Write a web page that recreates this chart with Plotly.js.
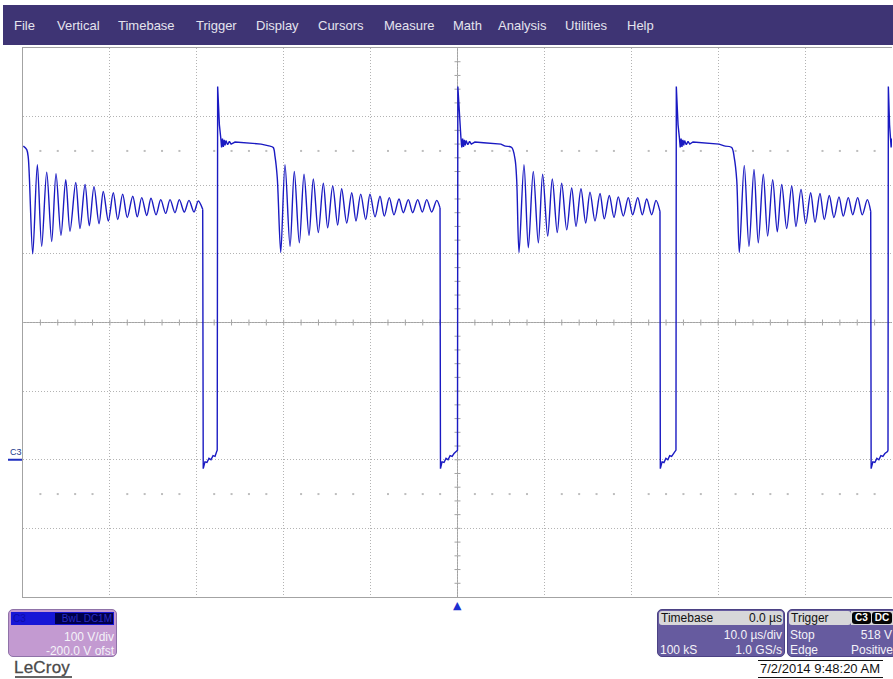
<!DOCTYPE html>
<html>
<head>
<meta charset="utf-8">
<script src="https://cdn.plot.ly/plotly-3.0.1.min.js"></script>
<style>
  html, body { margin:0; padding:0; background:#fff; width:893px; height:679px; overflow:hidden; }
  #plot { position:absolute; left:0; top:0; width:893px; height:679px; }
  .ui { position:absolute; font-family:"Liberation Sans", Arial, sans-serif; white-space:nowrap; }
  #menubar { left:3px; top:5px; width:890px; height:40px; background:#3e3474; }
  .mi { position:absolute; top:13px; font-size:13px; color:#e4e3ee; }
  .box { position:absolute; border-radius:5px; overflow:hidden; box-sizing:border-box; }
  .row { position:absolute; font-size:12px; line-height:14px; color:#f4f2f8; }
</style>
</head>
<body>
<div id="plot"></div>
<div id="menubar" class="ui"></div>

<!-- channel box -->
<div class="ui box" style="left:8px;top:609px;width:109px;height:48px;background:#c39ad1;border:1px solid #8f72a8;">
  <div style="position:absolute;left:2px;top:2px;width:103px;height:13px;background:#1616d6;"></div>
  <div style="position:absolute;left:4px;top:2px;font-size:10px;line-height:13px;color:#0c0caa;">C3</div>
  <div style="position:absolute;left:46px;top:3px;width:58px;height:11px;background:#00004a;"></div>
  <div style="position:absolute;right:4px;top:2px;font-size:10px;line-height:13px;color:#2a2ac4;">BwL DC1M</div>
  <div class="row" style="right:2px;top:20px;">100 V/div</div>
  <div class="row" style="right:2px;top:34px;">-200.0 V ofst</div>
</div>

<div class="ui" style="left:14px;top:658px;font-size:17px;color:#4a4a4a;letter-spacing:0.2px;-webkit-text-stroke:0.3px #4a4a4a;">LeCroy</div>
<div class="ui" style="left:15px;top:676px;width:57px;height:2px;background:#666;"></div>

<!-- timebase box -->
<div class="ui box" style="left:657px;top:609px;width:128px;height:48px;background:#665b9f;border:1px solid #4b4184;">
  <div style="position:absolute;left:1px;top:1px;right:1px;height:14px;background:#d7d7d9;border-radius:3px;"></div>
  <div class="row" style="left:3px;top:1px;color:#111;">Timebase</div>
  <div class="row" style="right:2px;top:1px;color:#111;">0.0 µs</div>
  <div class="row" style="right:2px;top:18px;">10.0 µs/div</div>
  <div class="row" style="left:2px;top:33px;">100 kS</div>
  <div class="row" style="right:2px;top:33px;">1.0 GS/s</div>
</div>

<!-- trigger box -->
<div class="ui box" style="left:787px;top:609px;width:110px;height:48px;background:#665b9f;border:1px solid #4b4184;">
  <div style="position:absolute;left:1px;top:1px;width:62px;height:14px;background:#d7d7d9;border-radius:3px;"></div>
  <div class="row" style="left:3px;top:1px;color:#111;">Trigger</div>
  <div style="position:absolute;left:63px;top:1px;width:44px;height:14px;background:#d7d7d9;"></div>
  <div style="position:absolute;left:64px;top:2px;width:19px;height:12px;background:#050505;border-radius:3px;color:#fff;font-size:10px;line-height:12px;font-weight:bold;text-align:center;">C3</div>
  <div style="position:absolute;left:84px;top:2px;width:20px;height:12px;background:#050505;border-radius:3px;color:#fff;font-size:10px;line-height:12px;font-weight:bold;text-align:center;">DC</div>
  <div class="row" style="left:2px;top:18px;">Stop</div>
  <div class="row" style="left:60px;width:44px;text-align:right;top:18px;">518 V</div>
  <div class="row" style="left:2px;top:33px;">Edge</div>
  <div class="row" style="left:50px;width:55px;text-align:right;top:33px;">Positive</div>
</div>

<div class="ui" style="left:758px;top:660px;width:125px;height:1px;background:#111;"></div>
<div class="ui" style="left:760px;top:661px;font-size:13px;line-height:15px;color:#111;">7/2/2014 9:48:20 AM</div>
<div class="ui" style="left:758px;top:677px;width:125px;height:1px;background:#111;"></div>

<script>
// ---------------- menu ----------------
const menuItems = ["File","Vertical","Timebase","Trigger","Display","Cursors","Measure","Math","Analysis","Utilities","Help"];
const menuLeft  = [14, 57, 118, 196, 256, 318, 384, 453, 498, 565, 627];

// ---------------- scope settings ----------------
const timePerDiv = 10;      // µs/div
const voltsPerDiv = 100;    // V/div
const timeRange = [-50, 50];   // µs (delay 0.0 µs, 10 div)
const voltRange = [-200, 600]; // V (offset -200 V, 8 div)
const triggerTime = 0;        // µs
const groundLevel = 0;        // V (C3 marker)
const dotRowLevels = [450, -50];

// ---------------- C3 trace: time (µs) / voltage (V) ----------------
const ring1T = [-49.96,-49.57,-49.39,-48.88,-48.35,-47.85,-47.27,-46.70,-46.20,-45.63,-45.08,-44.59,-43.93,-43.44,-42.86,-42.37,-41.83,-41.25,-40.76,-40.18,-39.61,-39.10,-38.53,-38.00,-37.37,-36.85,-36.34,-35.76,-35.27,-34.69,-34.15,-33.58,-33.08,-32.51,-32.01,-31.44,-30.90,-30.32,-29.83,-29.32];
const ring1V = [457,452,440,300,430,311,419,318,417,327,408,333,404,337,401,341,398,344,391,348,389,350,387,353,384,354,382,356,381,357,379,359,379,360,379,361,378,361,377,365];
const low1T = [-29.26,-29.06,-28.83,-28.60,-28.37,-28.13,-27.90,-27.71];
const low1V = [-13,-3,-4,2,0,6,5,12];

const flat2T = [-27.65,-27.60,-27.40,-27.25,-27.15,-27.05,-26.95,-26.85,-26.75,-26.65,-26.45,-26.25,-26.05,-25.60,-24.60,-23.60,-22.60];
const flat2V = [14,544,488,470,455,468,456,466,458,465,459,464,460,463,462,461,460];
const ring2T = [-21.58,-21.20,-21.00,-20.74,-20.34,-19.85,-19.27,-18.78,-18.20,-17.66,-17.09,-16.59,-16.02,-15.44,-14.94,-14.36,-13.79,-13.33,-12.75,-12.17,-11.68,-11.14,-10.56,-10.07,-9.49,-8.92,-8.42,-7.85,-7.31,-6.73,-6.24,-5.66,-5.16,-4.58,-4.05,-3.54,-2.97,-2.39,-2.01];
const ring2V = [457,455,442,411,302,430,311,420,316,416,327,409,331,403,338,399,342,395,345,389,348,387,350,387,354,384,355,382,357,380,360,379,360,379,361,379,361,378,367];
const low2T = [-1.96,-1.78,-1.55,-1.32,-1.09,-0.85,-0.62,-0.40,-0.10];
const low2V = [-13,-3,-4,2,0,6,5,9,12];

const flat3T = [0.00,0.04,0.24,0.39,0.49,0.59,0.69,0.79,0.89,0.99,1.19,1.39,1.59,2.00,3.00,4.00,5.00];
const flat3V = [14,544,488,470,455,468,456,466,458,465,459,464,460,463,462,461,460];
const ring3T = [5.47,6.24,6.62,6.81,7.08,7.65,8.15,8.72,9.30,9.80,10.38,10.91,11.48,11.99,12.57,13.14,13.64,14.21,14.75,15.25,15.82,16.40,16.89,17.47,18.01,18.50,19.08,19.65,20.16,20.74,21.27,21.77,22.35,22.84,23.30];
const ring3V = [457,455,438,408,302,430,309,420,316,416,326,409,331,403,335,396,340,395,345,390,348,388,351,385,353,383,355,382,357,382,357,380,357,378,362];
const low3T = [23.34,23.54,23.76,23.98,24.20,24.42,24.64,24.86,25.08];
const low3V = [-13,-3,-4,2,0,6,5,9,12];

const flat4T = [25.14,25.18,25.38,25.53,25.63,25.73,25.83,25.93,26.03,26.13,26.33,26.53,26.73,27.10,28.10,29.10,30.10];
const flat4V = [14,544,488,470,455,468,456,466,458,465,459,464,460,463,462,461,460];
const ring4T = [30.78,31.55,31.85,32.13,32.43,33.00,33.54,34.12,34.61,35.19,35.69,36.27,36.80,37.31,37.88,38.46,38.95,39.53,40.07,40.64,41.14,41.71,42.21,42.78,43.32,43.90,44.39,44.97,45.48,46.05,46.58,47.16,47.55];
const ring4V = [457,455,440,408,302,429,311,423,316,416,326,408,332,401,337,399,340,394,344,389,346,388,350,385,353,383,355,382,357,382,357,379,362];
const low4T = [47.60,47.80,48.03,48.26,48.49,48.72,48.95,49.18,49.48];
const low4V = [-13,-3,-4,2,0,6,5,9,12];

const flat5T = [49.54,49.58,49.72,49.82,49.90,49.97];
const flat5V = [14,544,488,470,455,468];

// ---------------- build ----------------
const mb = document.getElementById('menubar');
menuItems.forEach((m, i) => {
  const s = document.createElement('span');
  s.className = 'mi'; s.textContent = m; s.style.left = (menuLeft[i] - 3) + 'px';
  mb.appendChild(s);
});

const minorT = timePerDiv / 5, minorV = voltsPerDiv / 5;
const shapes = [];
const axisCol = '#a3a3a3';
shapes.push({type:'line', xref:'x', yref:'y', x0:triggerTime, x1:triggerTime, y0:voltRange[0], y1:voltRange[1], line:{color:axisCol, width:1}, layer:'below'});
const vMid = (voltRange[0] + voltRange[1]) / 2;
shapes.push({type:'line', xref:'x', yref:'y', x0:timeRange[0], x1:timeRange[1], y0:vMid, y1:vMid, line:{color:axisCol, width:1}, layer:'below'});
for (let v = voltRange[0] + minorV; v < voltRange[1]; v += minorV) {
  shapes.push({type:'line', xref:'x', yref:'y', xsizemode:'pixel', xanchor:triggerTime, x0:-3, x1:3, y0:v, y1:v, line:{color:axisCol, width:1}, layer:'below'});
}
for (let t = timeRange[0] + minorT; t < timeRange[1] - 1e-9; t += minorT) {
  shapes.push({type:'line', xref:'x', yref:'y', ysizemode:'pixel', yanchor:vMid, y0:-3, y1:3, x0:t, x1:t, line:{color:axisCol, width:1}, layer:'below'});
}
const pw = 893 - 23 - 1;
shapes.push({type:'line', xref:'paper', yref:'y', x0:(8-23)/pw, x1:(22-23)/pw, y0:groundLevel, y1:groundLevel, line:{color:'#1f2fc0', width:2}});

const dotX = [], dotY = [];
dotRowLevels.forEach(lv => {
  for (let t = timeRange[0] + minorT; t < timeRange[1] - 1e-9; t += minorT) {
    if (Math.abs(Math.round(t / timePerDiv) * timePerDiv - t) < 1e-6) continue;
    dotX.push(t); dotY.push(lv);
  }
});

const traceColor = '#1a1ac2';
const data = [
  {x:dotX, y:dotY, type:'scatter', mode:'markers', marker:{symbol:'square', size:2, color:'#bdbdbd'}, hoverinfo:'skip'}
];
// ringing segments drawn smooth, edges / plateaus drawn straight
const rings = [[ring1T, ring1V], [ring2T, ring2V], [ring3T, ring3V], [ring4T, ring4V]];
const links = [
  [low1T.concat(flat2T), low1V.concat(flat2V)],
  [low2T.concat(flat3T), low2V.concat(flat3V)],
  [low3T.concat(flat4T), low3V.concat(flat4V)],
  [low4T.concat(flat5T), low4V.concat(flat5V)]
];
rings.forEach((r, i) => {
  data.push({x:r[0], y:r[1], type:'scatter', mode:'lines', line:{color:traceColor, width:1.4, shape:'spline', smoothing:0.9}, hoverinfo:'skip'});
  const lk = links[i];
  const nx = rings[i + 1];
  const lx = [r[0][r[0].length - 1]].concat(lk[0], nx ? [nx[0][0]] : []);
  const ly = [r[1][r[1].length - 1]].concat(lk[1], nx ? [nx[1][0]] : []);
  data.push({x:lx, y:ly, type:'scatter', mode:'lines', line:{color:traceColor, width:1.4}, hoverinfo:'skip'});
});

const layout = {
  width:893, height:679,
  margin:{l:23, r:1, t:48, b:82},
  paper_bgcolor:'rgba(0,0,0,0)', plot_bgcolor:'#ffffff',
  showlegend:false,
  xaxis:{range:timeRange, dtick:timePerDiv, tick0:0, showticklabels:false, ticks:'', showgrid:true,
         gridcolor:'#b3b3b3', griddash:'1px,2px', gridwidth:1, zeroline:false,
         showline:true, linecolor:axisCol, linewidth:1, mirror:true, fixedrange:true},
  yaxis:{range:voltRange, dtick:voltsPerDiv, tick0:0, showticklabels:false, ticks:'', showgrid:true,
         gridcolor:'#b3b3b3', griddash:'1px,2px', gridwidth:1, zeroline:false,
         showline:true, linecolor:axisCol, linewidth:1, mirror:false, fixedrange:true},
  shapes:shapes,
  annotations:[
    {xref:'paper', yref:'y', x:(8-23)/pw, y:groundLevel, xanchor:'left', yanchor:'bottom', yshift:1,
     text:'C3', showarrow:false, font:{family:'Liberation Sans, Arial', size:9, color:'#1b3a8c'}},
    {xref:'x', yref:'paper', x:triggerTime, y:0, xanchor:'center', yanchor:'top', yshift:0,
     text:'▲', showarrow:false, font:{family:'DejaVu Sans', size:11, color:'#1c2fd0'}}
  ]
};

Plotly.newPlot('plot', data, layout, {staticPlot:true, displayModeBar:false});
</script>
</body>
</html>
